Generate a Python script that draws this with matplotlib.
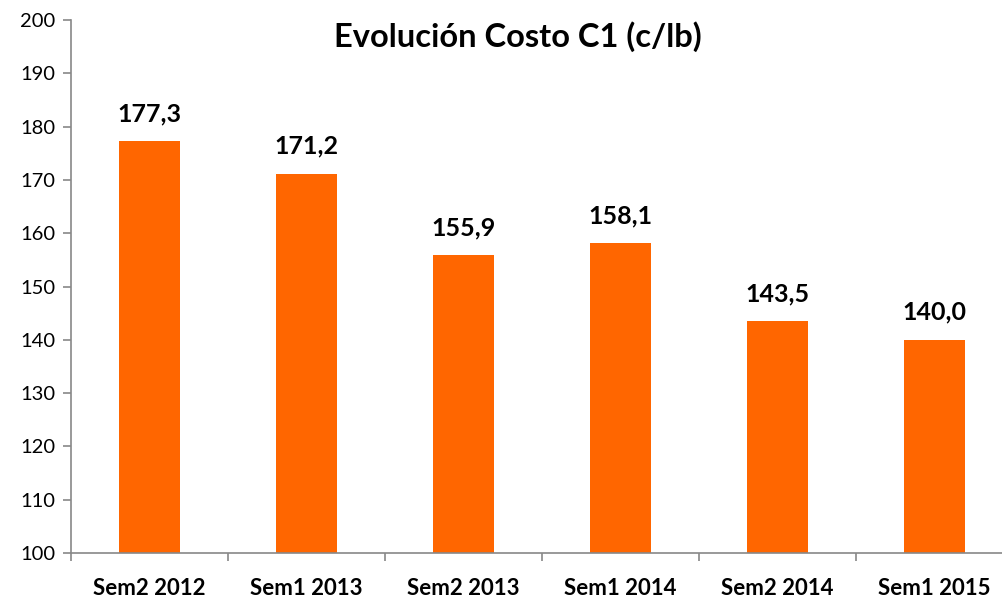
import matplotlib

matplotlib.use("Agg")
import matplotlib.pyplot as plt
import numpy as np

categories = ["Sem2 2012", "Sem1 2013", "Sem2 2013", "Sem1 2014", "Sem2 2014", "Sem1 2015"]
values = [177.3, 171.2, 155.9, 158.1, 143.5, 140.0]
value_labels = ["177,3", "171,2", "155,9", "158,1", "143,5", "140,0"]
yticks = [100, 110, 120, 130, 140, 150, 160, 170, 180, 190, 200]

plt.rcParams["font.family"] = ["Lato", "DejaVu Sans"]

fig = plt.figure(figsize=(10.02, 6.0), dpi=100)
# axes runs slightly past the right edge, as in the source image
ax = fig.add_axes([71 / 1002, 1 - 553 / 600, 942 / 1002, 533 / 600])

x = np.arange(len(categories))
ax.bar(x, values, width=0.39, bottom=0, color="#FF6600", zorder=2)
ax.set_ylim(100, 200)
ax.set_xlim(-0.5, len(categories) - 0.5)

for xi, v, lab in zip(x, values, value_labels):
    ax.text(xi, v + 3.0, lab, ha="center", va="bottom", fontsize=18,
            fontweight="bold", color="black")

ax.set_yticks(yticks)
ax.set_yticklabels([str(t) for t in yticks], fontsize=14.5)
ax.set_xticks(x)
ax.set_xticklabels(categories, fontsize=16, fontweight="bold")
ax.set_xticks(np.arange(len(categories) + 1) - 0.5, minor=True)
ax.tick_params(axis="x", which="major", length=0, pad=18)
ax.tick_params(axis="x", which="minor", length=6, color="#888888", width=1.2)
ax.tick_params(axis="y", length=6, color="#888888", width=1.2, pad=5)

for side in ["top", "right"]:
    ax.spines[side].set_visible(False)
for side in ["left", "bottom"]:
    ax.spines[side].set_color("#888888")
    ax.spines[side].set_linewidth(1.2)

fig.text(518 / 1002, 1 - 37 / 600, "Evolución Costo C1 (c/lb)", ha="center",
         va="center", fontsize=23.5, fontweight="bold")

fig.savefig("out.png", dpi=100)
